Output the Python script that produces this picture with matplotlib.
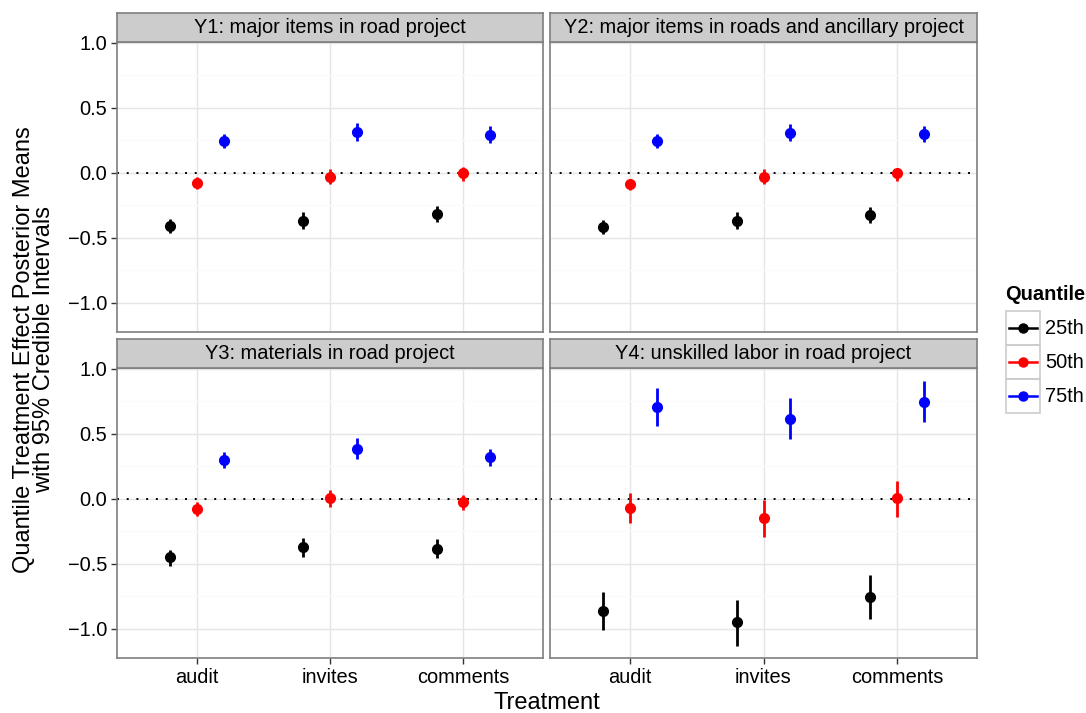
import matplotlib
matplotlib.use("Agg")
import matplotlib.pyplot as plt
from matplotlib.patches import Rectangle
from matplotlib.lines import Line2D

plt.rcParams['font.family'] = ['Liberation Sans', 'DejaVu Sans']

treatments = ['audit', 'invites', 'comments']
quantiles = ['25th', '50th', '75th']
colors = ['black', 'red', 'blue']
titles = ['Y1: major items in road project',
          'Y2: major items in roads and ancillary project',
          'Y3: materials in road project',
          'Y4: unskilled labor in road project']

# posterior means, rows = quantile (25/50/75), cols = treatment
y1_est = [[-0.41, -0.37, -0.315], [-0.077, -0.031, -0.005], [0.246, 0.315, 0.292]]
y1_lo = [[-0.462, -0.436, -0.379], [-0.128, -0.09, -0.067], [0.192, 0.244, 0.231]]
y1_hi = [[-0.359, -0.30, -0.256], [-0.031, 0.031, 0.046], [0.30, 0.385, 0.356]]

y2_est = [[-0.418, -0.369, -0.326], [-0.085, -0.031, -0.005], [0.246, 0.308, 0.30]]
y2_lo = [[-0.469, -0.433, -0.385], [-0.133, -0.09, -0.064], [0.192, 0.244, 0.236]]
y2_hi = [[-0.367, -0.303, -0.262], [-0.046, 0.026, 0.038], [0.297, 0.372, 0.362]]

y3_est = [[-0.452, -0.375, -0.383], [-0.082, 0.003, -0.028], [0.296, 0.38, 0.319]]
y3_lo = [[-0.514, -0.45, -0.458], [-0.136, -0.062, -0.09], [0.234, 0.303, 0.249]]
y3_hi = [[-0.393, -0.30, -0.308], [-0.028, 0.067, 0.031], [0.36, 0.463, 0.383]]

y4_est = [[-0.861, -0.946, -0.753], [-0.075, -0.152, 0.003], [0.704, 0.612, 0.743]]
y4_lo = [[-1.01, -1.131, -0.928], [-0.19, -0.296, -0.139], [0.56, 0.458, 0.591]]
y4_hi = [[-0.72, -0.779, -0.586], [0.046, -0.008, 0.139], [0.848, 0.771, 0.902]]

panels = [(y1_est, y1_lo, y1_hi), (y2_est, y2_lo, y2_hi),
          (y3_est, y3_lo, y3_hi), (y4_est, y4_lo, y4_hi)]

W, H = 1086, 713
fig = plt.figure(figsize=(W / 100, H / 100), dpi=100)

# pixel boxes of the panels: left, top, right, bottom
boxes = [(117, 42, 543, 332), (550, 42, 977, 332),
         (117, 368, 543, 658), (550, 368, 977, 658)]
strip_h = 29
border = '#7f7f7f'
fs = 14.4

for i, (box, (est, lo, hi)) in enumerate(zip(boxes, panels)):
    l, t, r, b = box
    ax = fig.add_axes([l / W, 1 - b / H, (r - l) / W, (b - t) / H])
    ax.set_xlim(0.4, 3.6)
    ax.set_ylim(-1.225, 1.005)
    ax.set_yticks([-1.0, -0.5, 0.0, 0.5, 1.0])
    ax.set_yticks([-0.75, -0.25, 0.25, 0.75], minor=True)
    ax.set_xticks([1, 2, 3])
    ax.grid(True, which='major', color='#e5e5e5', lw=1.0)
    ax.grid(True, which='minor', axis='y', color='#fafafa', lw=1.0)
    ax.set_axisbelow(True)
    for s in ax.spines.values():
        s.set_color(border)
        s.set_linewidth(1.2)
    ax.axhline(0, color='black', ls=(0, (1, 4)), lw=1.4, zorder=2)

    for q in range(3):
        xs = [j + 1 + (q - 1) * 0.2 for j in range(3)]
        ax.vlines(xs, lo[q], hi[q], color=colors[q], lw=2.0, zorder=3)
        ax.plot(xs, est[q], 'o', color=colors[q], ms=7, zorder=4)

    ax.tick_params(which='minor', length=0)
    ax.tick_params(which='major', color='#333333', length=4, width=1,
                   labelsize=fs, labelcolor='black', pad=3)
    if i % 2 == 0:
        ax.set_yticklabels(['\u22121.0', '\u22120.5', '0.0', '0.5', '1.0'])
    else:
        ax.tick_params(axis='y', length=0, labelleft=False)
    if i >= 2:
        ax.set_xticklabels(treatments)
    else:
        ax.tick_params(axis='x', length=0, labelbottom=False)

    # strip
    sax = fig.add_axes([l / W, 1 - t / H, (r - l) / W, strip_h / H])
    sax.set_facecolor('#cccccc')
    sax.set_xticks([])
    sax.set_yticks([])
    for s in sax.spines.values():
        s.set_color(border)
        s.set_linewidth(1.2)
    sax.text(0.5, 0.5, titles[i], ha='center', va='center', fontsize=fs,
             transform=sax.transAxes)

fig.text(547 / W, 1 - 703 / H, 'Treatment', ha='center', va='center', fontsize=17)
fig.text(34 / W, 1 - 350 / H,
         'Quantile Treatment Effect Posterior Means\nwith 95% Credible Intervals',
         ha='center', va='center', rotation=90, fontsize=17, linespacing=0.92)

# legend drawn in pixel coordinates
lax = fig.add_axes([0, 0, 1, 1], facecolor='none')
lax.set_xlim(0, W)
lax.set_ylim(H, 0)
lax.axis('off')
lax.text(1005, 295, 'Quantile', fontsize=fs, fontweight='bold', va='center', ha='left')
for k in range(3):
    y0 = 311 + k * 34
    lax.add_patch(Rectangle((1006, y0), 34, 34, fill=False, ec='#cccccc', lw=1.2))
    lax.add_line(Line2D([1009, 1037], [y0 + 17, y0 + 17], color=colors[k], lw=1.8))
    lax.plot(1023, y0 + 17, 'o', color=colors[k], ms=6.5)
    lax.text(1045, y0 + 17, quantiles[k], fontsize=fs, va='center', ha='left')

fig.savefig('out.png', dpi=100)
